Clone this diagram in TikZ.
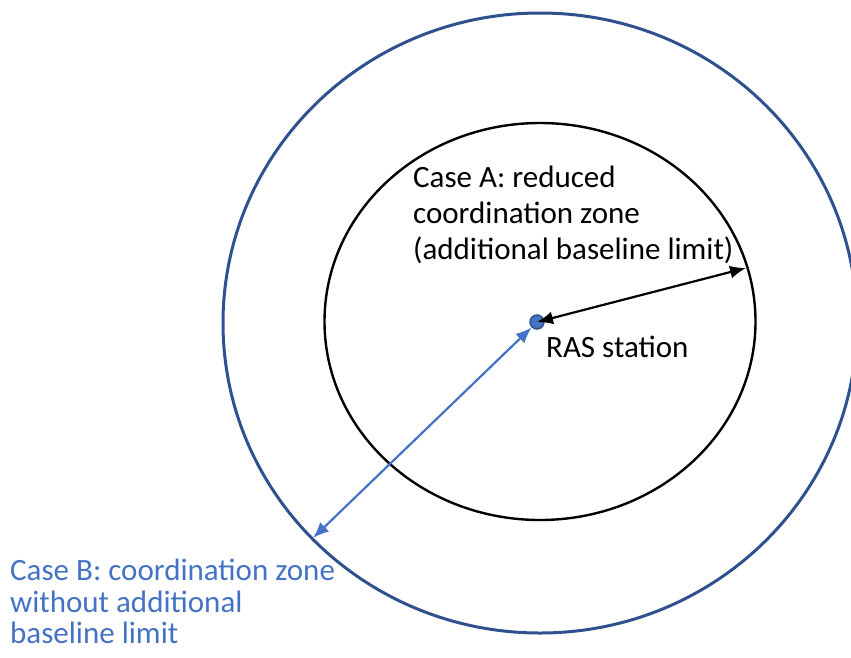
\documentclass[tikz,border=0pt]{standalone}
\usepackage{fontspec}
\setmainfont{Carlito}
\usetikzlibrary{arrows.meta}
\definecolor{zoneblue}{RGB}{47,82,143}
\definecolor{caseblue}{RGB}{68,114,196}
\tikzset{
  zoneline/.style={line width=3pt,draw=zoneblue},
  caseline/.style={line width=2.4pt,draw=black},
  radius line/.style={line width=2.2pt,{Latex[length=16pt,width=13pt]}-{Latex[length=16pt,width=13pt]}},
  label/.style={inner sep=0pt,align=left,font=\fontsize{31}{36}\selectfont},
}

\begin{document}
\begin{tikzpicture}[>=Latex,x=1pt,y=-1pt]
  % Page
  \useasboundingbox (0,0) rectangle (851,657);
  %
  % Zones
  \draw[zoneline] (540,323) ellipse [x radius=317, y radius=310];
  \draw[caseline] (540,321.5) ellipse [x radius=215.5, y radius=198.5];
  %
  % Station
  \node[circle,fill=caseblue,draw=zoneblue,line width=1.5pt,minimum size=14pt,inner sep=0pt]
    (station) at (537,322) {};
  \node[label,anchor=west] (stationtext) at (546,347) {RAS station};
  %
  % Rims
  \coordinate (rimA) at (746,268);
  \coordinate (rimB) at (313,538);
  %
  % Radii
  \draw[radius line] (station.center) -- (rimA);
  \draw[radius line,caseblue] (station.225) -- (rimB);
  %
  % Labels
  \node[label,anchor=north west] (caseA) at (413,166)
    {Case A: reduced\\coordination zone\\(additional baseline limit)};
  \node[label,anchor=north west,text=caseblue,font=\fontsize{31}{31.5}\selectfont]
    (caseB) at (10,559) {Case B: coordination zone\\without additional\\baseline limit};
  %
\end{tikzpicture}
\end{document}
